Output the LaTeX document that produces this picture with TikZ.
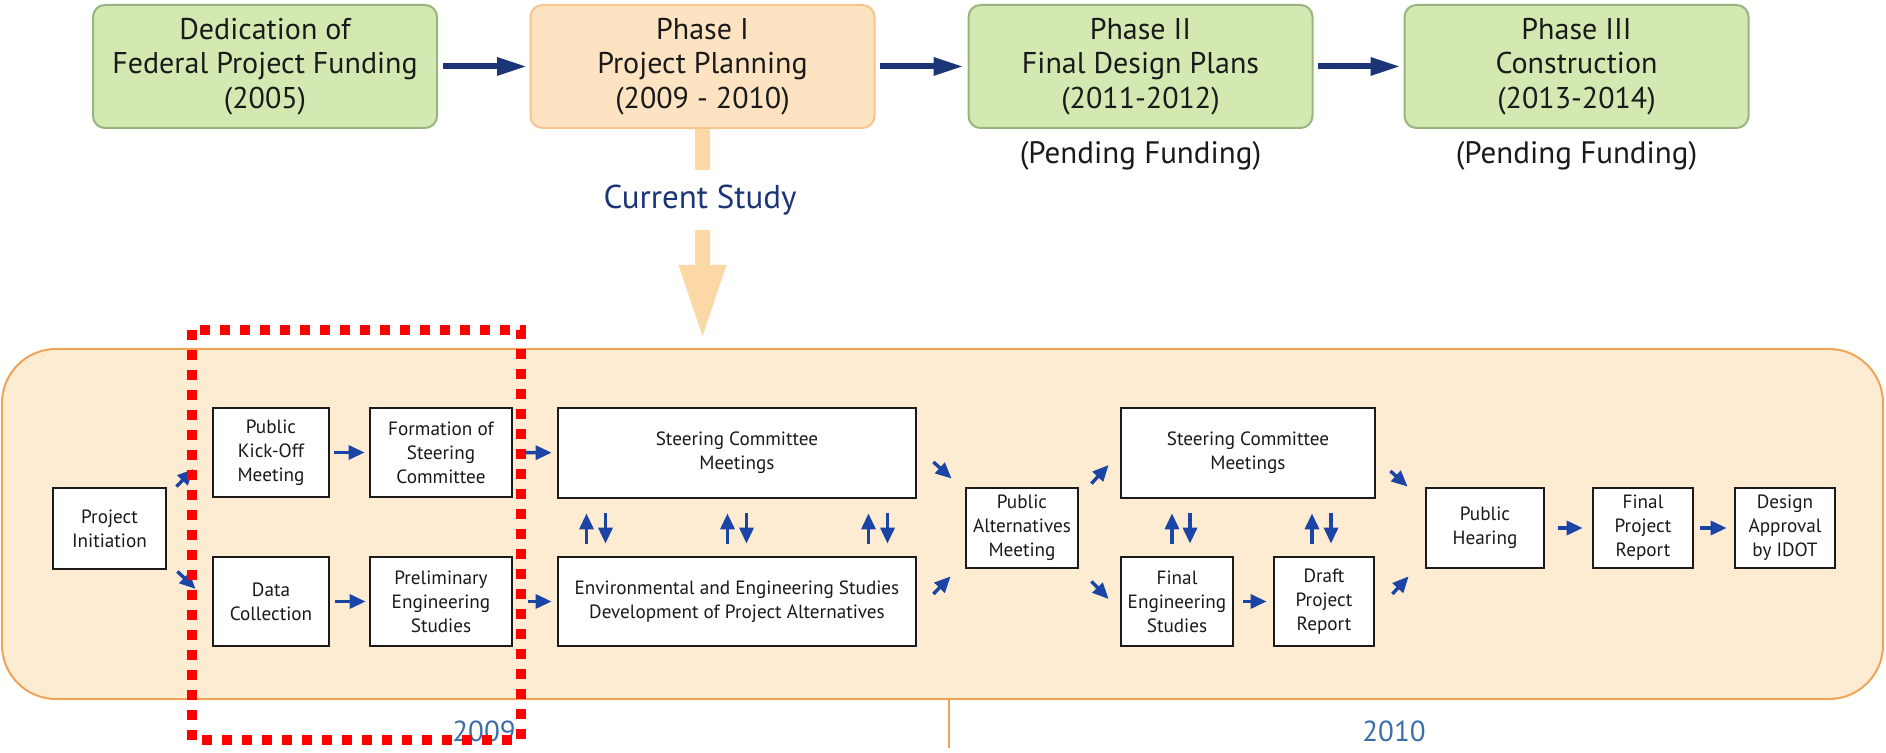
\documentclass[tikz,border=0pt]{standalone}
\usepackage{fontspec}
\setmainfont{PT Sans}
\usetikzlibrary{arrows.meta,calc}
\definecolor{gfill}{HTML}{D4E9B2}
\definecolor{gline}{HTML}{98B580}
\definecolor{ofill}{HTML}{FDE3C1}
\definecolor{oline}{HTML}{F6C48E}
\definecolor{pfill}{HTML}{FDEBD2}
\definecolor{pline}{HTML}{F0A458}
\definecolor{navy}{HTML}{1B3577}
\definecolor{blu}{HTML}{1A44A6}
\definecolor{csor}{HTML}{FCD8A6}
\definecolor{yrblue}{HTML}{3C6EA8}
\definecolor{ink}{HTML}{1A1A1A}
\begin{document}
\begin{tikzpicture}[x=0.5pt,y=-0.5pt,
  topbox/.style={rounded corners=6pt, line width=1pt, minimum width=172pt, minimum height=61.5pt, align=center, font=\fontsize{15}{17.25}\selectfont, text=ink, inner sep=0pt},
  gbox/.style={topbox, fill=gfill, draw=gline},
  obox/.style={topbox, fill=ofill, draw=oline},
  pend/.style={font=\fontsize{15.5}{18}\selectfont, text=ink, inner sep=0pt},
  sbox/.style 2 args={draw=ink, fill=white, line width=1.4pt, minimum width=#1*0.5pt, minimum height=#2*0.5pt, inner sep=0pt, align=center, font=\fontsize{9.6}{12}\selectfont, text=ink},
  panel/.style={draw=pline, fill=pfill, line width=1pt, rounded corners=27pt, minimum width=940.5pt, minimum height=175pt, inner sep=0pt},
  tarr/.style={draw=navy, line width=3pt, -{Triangle[length=15pt,width=8.5pt]}},
  sarr/.style={draw=blu, line width=1.7pt, -{Triangle[length=8pt,width=7pt]}},
  csarr/.style={draw=csor, line width=7.5pt, -{Triangle[length=37.5pt,width=21.5pt]}},
  yr/.style={text=yrblue, font=\fontsize{14.5}{16}\selectfont, inner sep=0pt},
  tickline/.style={draw=pline, line width=1pt},
  hilite/.style={draw=red, line width=5pt, dash pattern=on 5pt off 5pt},
]
\useasboundingbox (0,0) rectangle (1886,753);

% top row
\node[gbox] (fed) at (265,66.5) {Dedication of\\Federal Project Funding\\(2005)};
\node[obox] (p1) at (702.5,66.5) {Phase I\\Project Planning\\(2009 - 2010)};
\node[gbox] (p2) at (1140.5,66.5) {Phase II\\Final Design Plans\\(2011-2012)};
\node[gbox] (p3) at (1576.5,66.5) {Phase III\\Construction\\(2013-2014)};
\node[pend] (pf2) at (1140.5,156) {(Pending Funding)};
\node[pend] (pf3) at (1576.5,156) {(Pending Funding)};

\draw[tarr, shorten <=2.5pt, shorten >=1.25pt] (fed) -- (p1);
\draw[tarr, shorten <=2pt, shorten >=2pt] (p1) -- (p2);
\draw[tarr, shorten <=2pt, shorten >=1.5pt] (p2) -- (p3);

% panel
\node[panel] (panel) at (942.5,524) {};
\coordinate (cstip) at (702.5,340);
\draw[csarr] (p1.south) -- (cstip);
\node[fill=white, text=navy, font=\fontsize{16.5}{18}\selectfont, minimum height=30pt, inner xsep=4pt, inner ysep=0pt] (cs) at (700,200) {Current Study};

% timeline
\coordinate (split) at (949,748);
\draw[tickline] (panel.south -| split) -- (split);
\node[yr] (y09) at (484,731) {2009};
\node[yr] (y10) at (1394,731) {2010};

% process boxes
\node[sbox={113}{81}] (pi) at (109.5,528.5) {Project\\Initiation};
\node[sbox={116}{89}] (kick) at (271,452.5) {Public\\Kick-Off\\Meeting};
\node[sbox={142}{89}] (form) at (441,452.5) {Formation of\\Steering\\Committee};
\node[sbox={116}{89}] (data) at (271,601.5) {Data\\Collection};
\node[sbox={142}{89}] (prel) at (441,601.5) {Preliminary\\Engineering\\Studies};
\node[sbox={358}{90}] (sc1) at (737,453) {Steering Committee\\Meetings};
\node[sbox={358}{89}] (env) at (737,601.5) {Environmental and Engineering Studies\\Development of Project Alternatives};
\node[sbox={112}{80}] (pam) at (1022,528) {Public\\Alternatives\\Meeting};
\node[sbox={254}{90}] (sc2) at (1248,453) {Steering Committee\\Meetings};
\node[sbox={112}{89}] (fes) at (1177,601.5) {Final\\Engineering\\Studies};
\node[sbox={100}{89}] (draft) at (1324,601.5) {Draft\\Project\\Report};
\node[sbox={118}{80}] (ph) at (1485,528) {Public\\Hearing};
\node[sbox={100}{80}] (fpr) at (1643,528) {Final\\Project\\Report};
\node[sbox={100}{80}] (da) at (1785,528) {Design\\Approval\\by IDOT};

% horizontal arrows
\draw[sarr, shorten <=2pt, shorten >=2pt] (kick) -- (form);
\draw[sarr, shorten <=2.5pt, shorten >=1.5pt] (data) -- (prel);
\draw[sarr, shorten <=4.5pt, shorten >=2.5pt] (form) -- (sc1);
\draw[sarr, shorten <=7.5pt, shorten >=2.5pt] (prel) -- (env);
\draw[sarr, shorten <=4.5pt, shorten >=3pt] (fes) -- (draft);
\draw[sarr, shorten <=6.5pt, shorten >=4.5pt] (ph) -- (fpr);
\draw[sarr, shorten <=3pt, shorten >=3.5pt] (fpr) -- (da);

% diagonal arrows
\draw[sarr] ($(pi.north east)+(9,0)$) -- ($(kick.west)+(-18,16.5)$);
\draw[sarr] ($(pi.south east)+(10,1)$) -- ($(data.west)+(-16,-12.5)$);
\draw[sarr] ($(sc1.east)+(16,9)$) -- ($(pam.north west)+(-13,-8)$);
\draw[sarr] ($(env.east)+(16,-7.5)$) -- ($(pam.south west)+(-14,7)$);
\draw[sarr] ($(pam.north east)+(12,-3)$) -- ($(sc2.west)+(-11,12)$);
\draw[sarr] ($(pam.south east)+(12,12)$) -- ($(fes.west)+(-11,-2.5)$);
\draw[sarr] ($(sc2.east)+(14,18)$) -- ($(ph.north west)+(-17,0)$);
\draw[sarr] ($(draft.east)+(17,-7.5)$) -- ($(ph.south west)+(-16,7)$);

% vertical double arrows
\foreach \d in {-141,0,141}{
  \draw[sarr] ($(env.north)+(\d-9.5,-12)$) -- ($(sc1.south)+(\d-9.5,14)$);
  \draw[sarr] ($(sc1.south)+(\d+9.5,14)$) -- ($(env.north)+(\d+9.5,-12)$);
}
\draw[sarr] ($(fes.north)+(-5,-12)$) -- ($(sc2.south)+(-76,14)$);
\draw[sarr] ($(sc2.south)+(-58,14)$) -- ($(fes.north)+(13,-12)$);
\draw[sarr] ($(draft.north)+(-12,-12)$) -- ($(sc2.south)+(64,14)$);
\draw[sarr] ($(sc2.south)+(83,14)$) -- ($(draft.north)+(7,-12)$);

% highlight
\draw[hilite] (192,330) rectangle (521,740);
\end{tikzpicture}
\end{document}
